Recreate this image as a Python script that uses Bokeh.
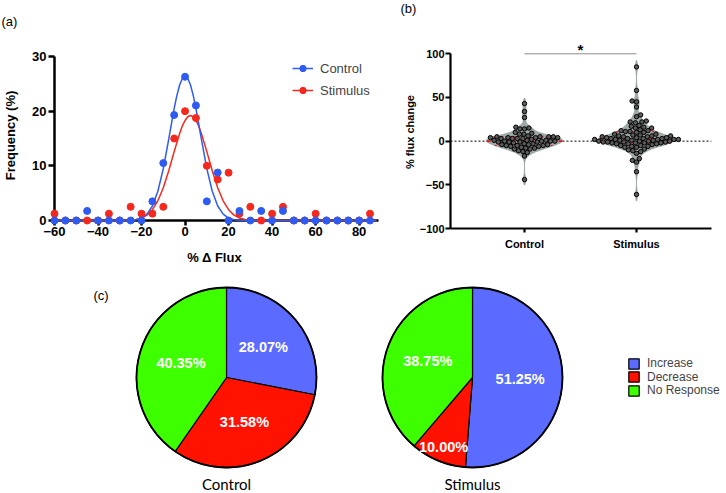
import numpy as np
from bokeh.plotting import figure
from bokeh.models import (Range1d, FixedTicker, Span, Legend, LegendItem,
                          ColumnDataSource)
from bokeh.layouts import column, row
from bokeh.embed import file_html
from bokeh.resources import INLINE
from bokeh.core.properties import value

# ---------------- data ----------------
# (a) frequency distribution of % change in flux
bins = [-60, -55, -50, -45, -40, -35, -30, -25, -20, -15, -10, -5, 0, 5, 10,
        15, 20, 25, 30, 35, 40, 45, 50, 55, 60, 65, 70, 75, 80, 85]
control_freq = [0, 0, 0, 1.75, 0, 0, 0, 0, 0, 3.5, 10.5, 19.3, 26.3, 21.05, 3.5,
                8.77, 0, 1.75, 0, 1.75, 0, 1.75, 0, 0, 0, 0, 0, 0, 0, 0]
stim_freq = [1.25, 0, 0, 0, 0, 1.25, 0, 2.5, 1.25, 1.25, 2.5, 15, 20, 18.75, 10,
             7.5, 8.75, 1.25, 2.5, 0, 1.25, 2.5, 0, 0, 1.25, 0, 0, 0, 0, 1.25]
# Gaussian fit curves
control_fit_x = [-60, -27.5, -25, -22.5, -20, -17.5, -15, -12.5, -10, -7.5, -5,
                 -3.75, -2.5, -1.25, 0, 1.25, 2.5, 3.75, 5, 7.5, 10, 12.5, 15,
                 17.5, 20, 22.5, 25, 27.5, 88]
control_fit_y = [0, 0, 0.04, 0.15, 0.45, 1.16, 2.65, 5.36, 9.5, 14.9, 20.5,
                 22.9, 24.8, 25.98, 26.4, 25.98, 24.8, 22.9, 20.5, 14.9, 9.5, 5.36,
                 2.65, 1.16, 0.45, 0.15, 0.04, 0, 0]
stim_fit_x = [-60, -27.5, -25, -22.5, -20, -17.5, -15, -12.5, -10, -7.5, -5, -2.5,
              -1.25, 0, 1.25, 2.5, 3.75, 5, 6.25, 7.5, 10, 12.5, 15, 17.5, 20, 22.5,
              25, 27.5, 30, 32.5, 88]
stim_fit_y = [0, 0.02, 0.07, 0.18, 0.45, 0.98, 1.97, 3.6, 6.0, 9.1, 12.6, 15.9,
              17.3, 18.3, 18.98, 19.2, 18.98, 18.3, 17.3, 15.9, 12.6, 9.1, 6.0, 3.6,
              1.97, 0.98, 0.45, 0.18, 0.07, 0.02, 0]
a_xticks = [-60, -40, -20, 0, 20, 40, 60, 80]
a_yticks = [0, 10, 20, 30]

# (b) individual % flux change values
groups = ["Control", "Stimulus"]
control_vals = [43, 34, 27, 16, 15, 14, 14, 10, 9, 8, 8, 6, 5, 5, 5, 5, 4, 4, 4, 4,
                3, 3, 3, 3, 2, 1, 1, 1, 0, 0, 0, 0, -1, -1, -1, -1, -2, -3, -3, -4,
                -4, -4, -5, -5, -5, -6, -6, -7, -8, -8, -9, -9, -11, -12, -13, -17, -44]
stim_vals = [85, 58, 46, 45, 39, 30, 28, 23, 22, 22, 21, 18, 17, 16, 15, 15, 13, 12,
             12, 11, 11, 10, 10, 8, 8, 7, 7, 6, 6, 6, 5, 5, 5, 4, 4, 4, 3, 3, 3, 3,
             2, 2, 2, 2, 2, 1, 1, 1, 0, 0, 0, 0, -1, -1, -1, -1, -2, -2, -2, -2, -3,
             -3, -3, -4, -5, -5, -6, -6, -7, -7, -9, -10, -11, -12, -14, -20, -22,
             -24, -35, -61]
b_yticks = [-100, -50, 0, 50, 100]
significance = "*"

# (c) response categories
responses = ["Increase", "Decrease", "No Response"]
control_pct = [28.07, 31.58, 40.35]
stim_pct = [51.25, 10.00, 38.75]

panel_tags = ["(a)", "(b)", "(c)"]

# ---------------- style ----------------
FONT = "Liberation Sans"
BLUE = "#2E5CF2"
RED = "#F5281E"
PIE_COLORS = ["#5B6BFF", "#FF1200", "#3EFF00"]
VIOLIN = "#9DAAA7"


def style_axis(ax, lw, tick_size, title_size):
    ax.axis_line_width = lw
    ax.axis_line_color = "black"
    ax.major_tick_line_width = lw
    ax.major_tick_line_color = "black"
    ax.major_tick_in = 0
    ax.minor_tick_in = 0
    ax.minor_tick_out = 0
    ax.major_label_text_font = FONT
    ax.major_label_text_font_style = "bold"
    ax.major_label_text_font_size = tick_size
    ax.major_label_text_color = "black"
    ax.axis_label_text_font = FONT
    ax.axis_label_text_font_style = "bold"
    ax.axis_label_text_font_size = title_size
    ax.axis_label_text_color = "black"


def bare(p):
    p.outline_line_color = None
    p.xgrid.visible = False
    p.ygrid.visible = False


def no_frame_align(p):
    try:
        p.frame_align = False
    except Exception:
        pass


# ---------------- strip with panel tags (a), (b) ----------------
ft = figure(width=726, height=30, output_backend="svg", toolbar_location=None,
            x_range=Range1d(0, 726), y_range=Range1d(-30, 0),
            x_axis_type=None, y_axis_type=None, min_border=0, title_location=None)
bare(ft)
ft.text([1, 400], [-21, -8], text=panel_tags[:2], text_font=value(FONT),
        text_font_size="13px", text_align="left", text_baseline="middle")

# ---------------- panel (a) ----------------
fa = figure(width=390, height=240, output_backend="svg", toolbar_location=None,
            x_range=Range1d(-60, 88.9), y_range=Range1d(0, 31.1),
            min_border_left=51, min_border_right=12, min_border_top=20,
            min_border_bottom=50, title_location=None)
bare(fa)
no_frame_align(fa)
style_axis(fa.xaxis[0], 2.5, "13px", "13px")
style_axis(fa.yaxis[0], 2.5, "13px", "13px")
fa.xaxis.ticker = FixedTicker(ticks=a_xticks)
fa.yaxis.ticker = FixedTicker(ticks=a_yticks)
fa.xaxis.major_tick_out = 5
fa.yaxis.major_tick_out = 6
fa.xaxis.major_label_standoff = 1
fa.yaxis.major_label_standoff = 2
fa.yaxis.bounds = (0, 30)
fa.xaxis.axis_label = "% Δ  Flux"
fa.yaxis.axis_label = "Frequency (%)"
fa.xaxis.axis_label_standoff = 11
fa.yaxis.axis_label_standoff = 11

rs_line = fa.line(stim_fit_x, stim_fit_y, line_color=RED, line_width=1.5, level="annotation")
rc_line = fa.line(control_fit_x, control_fit_y, line_color=BLUE, line_width=1.5, level="annotation")
rs_pts = fa.scatter(bins, stim_freq, size=7, fill_color=RED, line_color=RED, level="annotation")
rc_pts = fa.scatter(bins, control_freq, size=7, fill_color=BLUE, line_color=BLUE, level="annotation")

leg_a = Legend(items=[LegendItem(label="Control", renderers=[rc_line, rc_pts]),
                      LegendItem(label="Stimulus", renderers=[rs_line, rs_pts])],
               location=(238, 122), spacing=6, padding=0, margin=0,
               border_line_color=None, background_fill_alpha=0,
               label_height=16, glyph_height=16, glyph_width=21, label_standoff=7,
               label_text_font=FONT, label_text_font_size="13px")
fa.add_layout(leg_a)

# ---------------- panel (b) ----------------
B_PX_X = 112.0
B_PX_Y = 193.0 / (120.95 + 100)
fb = figure(width=336, height=240, output_backend="svg", toolbar_location=None,
            x_range=Range1d(0.3393, 2.6696), y_range=Range1d(-100, 120.95),
            min_border_left=60, min_border_right=15, min_border_top=5,
            min_border_bottom=42, title_location=None)
bare(fb)
no_frame_align(fb)
style_axis(fb.xaxis[0], 2.2, "11px", "11px")
style_axis(fb.yaxis[0], 2.2, "11px", "11px")
fb.yaxis.ticker = FixedTicker(ticks=b_yticks)
fb.yaxis.bounds = (-100, 100)
fb.yaxis.major_tick_out = 5
fb.yaxis.major_label_standoff = 1
fb.yaxis.axis_label = "% flux change"
fb.yaxis.axis_label_standoff = 1
fb.xaxis.ticker = FixedTicker(ticks=[1, 2])
fb.xaxis.major_label_overrides = {1: groups[0], 2: groups[1]}
fb.xaxis.major_tick_out = 4
fb.xaxis.major_label_standoff = 5

fb.add_layout(Span(location=0, dimension="width", line_color="black",
                   line_dash="2 2", line_width=1, level="underlay"))


def kde(vals, grid, h):
    v = np.asarray(vals, dtype=float)[:, None]
    return np.exp(-0.5 * ((grid[None, :] - v) / h) ** 2).sum(0) / (len(vals) * h * np.sqrt(2 * np.pi))


def swarm(vals, d, px_x, px_y):
    placed = []
    out = {}
    order = np.argsort(vals, kind="stable")
    for k, i in enumerate(order):
        y = vals[i] * px_y
        cands = [0.0]
        for (qx, qy) in placed:
            dy = y - qy
            if abs(dy) < d:
                dx = np.sqrt(d * d - dy * dy)
                cands += [qx + dx, qx - dx]
        ok = [c for c in cands
              if all((c - qx) ** 2 + (y - qy) ** 2 >= d * d - 1e-6 for (qx, qy) in placed)]
        sgn = 1 if k % 2 == 0 else -1
        best = min(ok, key=lambda c: (round(abs(c), 3), -sgn * c))
        placed.append((best, y))
        out[i] = best / px_x
    return [out[i] for i in range(len(vals))]


for gi, vals in enumerate([control_vals, stim_vals]):
    x0 = gi + 1
    arr = np.asarray(vals, dtype=float)
    q1, med, q3 = np.percentile(arr, [25, 50, 75])
    h = 1.1 * min(arr.std(), (q3 - q1) / 1.34) * len(arr) ** -0.2
    grid = np.linspace(arr.min() - 1.6 * h, arr.max() + 1.6 * h, 300)
    dens = kde(arr, grid, h)
    w = dens / dens.max() * 0.34
    fb.patch(np.concatenate([x0 + w, (x0 - w)[::-1]]),
             np.concatenate([grid, grid[::-1]]),
             fill_color=VIOLIN, line_color="#8E9C99", line_width=0.8)
    for yv, dash, lw in [(med, "4 2", 1.6), (q1, "2 2", 1.2), (q3, "2 2", 1.2)]:
        hw = float(np.interp(yv, grid, w))
        fb.segment(x0 - hw, yv, x0 + hw, yv, line_color="#E8161B",
                   line_dash=dash, line_width=lw)
    xs = swarm(arr, 4.5, B_PX_X, B_PX_Y)
    fb.scatter([x0 + s for s in xs], arr, size=4.4, fill_color="#5C5C5C",
               line_color="black", line_width=1)

fb.line([1, 2], [100, 100], line_color="#8C8C8C", line_width=1)
fb.text([1.5], [105], text=[significance], text_font=value(FONT), text_font_style="bold",
        text_font_size="15px", text_align="center", text_baseline="alphabetic")

# ---------------- panel (c) ----------------
fc = figure(width=726, height=223, output_backend="svg", toolbar_location=None,
            x_range=Range1d(0, 726), y_range=Range1d(-493, -270),
            x_axis_type=None, y_axis_type=None, min_border=0, title_location=None)
bare(fc)

PIE_R = 90
pie_centres = [(226, -377), (472, -377)]
wedge_renderers = []
for (cx, cy), pcts, name in zip(pie_centres, [control_pct, stim_pct], groups):
    fr = np.asarray(pcts) / 100.0
    cum = np.concatenate([[0], np.cumsum(fr)[:-1]])
    start = np.pi / 2 - cum * 2 * np.pi
    end = np.pi / 2 - (cum + fr) * 2 * np.pi
    src = ColumnDataSource(dict(start=start, end=end, color=PIE_COLORS, label=responses))
    wr = fc.wedge(x=cx, y=cy, radius=PIE_R, start_angle="start", end_angle="end",
                  direction="clock", fill_color="color", line_color="black",
                  line_width=1.2, source=src)
    wedge_renderers.append(wr)
    fc.circle(x=[cx], y=[cy], radius=PIE_R, fill_color=None, line_color="black",
              line_width=1.8)
    mid = (cum + fr / 2) * 2 * np.pi
    rr = np.where(fr < 0.15, 0.84, 0.53) * PIE_R
    fc.text(cx + rr * np.sin(mid), cy + rr * np.cos(mid),
            text=[f"{p:.2f}%" for p in pcts], text_color="white",
            text_font=value(FONT), text_font_style="bold", text_font_size="14.5px",
            text_align="center", text_baseline="middle")
    fc.text([cx], [-492.5], text=[name], text_font=value("Lato"),
            text_font_size="15px", text_align="center", text_baseline="bottom")

ROW_H = 13.5
for i, lab in enumerate(responses):
    leg = Legend(items=[LegendItem(label=lab, renderers=[wedge_renderers[0]], index=i)],
                 location=(627, 95.75 + (2 - i) * ROW_H), spacing=0, padding=0, margin=0,
                 border_line_color=None, background_fill_alpha=0,
                 label_height=13, glyph_height=13, glyph_width=13, label_standoff=7,
                 label_text_font=FONT, label_text_font_size="12px",
                 label_text_baseline="middle")
    fc.add_layout(leg)
fc.text([93], [-295], text=[panel_tags[2]], text_font=value(FONT), text_font_size="13px",
        text_baseline="middle", text_align="left")

layout = column(ft, row(fa, fb), fc)
open("out.html", "w").write(file_html(layout, INLINE))
